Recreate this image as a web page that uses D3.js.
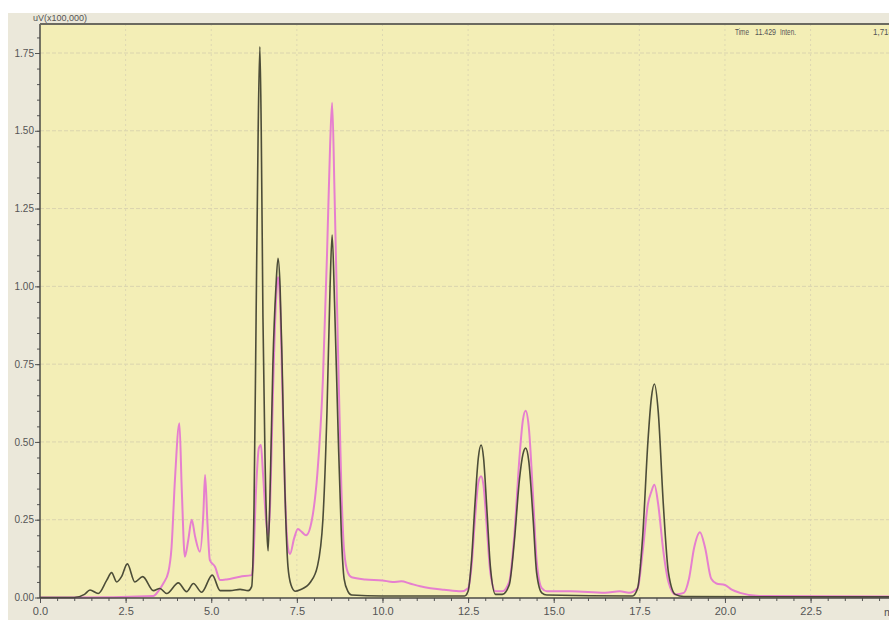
<!DOCTYPE html>
<html>
<head>
<meta charset="utf-8">
<script src="https://cdn.jsdelivr.net/npm/d3@7"></script>
<style>
  body { margin: 0; background: #ffffff; }
  svg { display: block; }
</style>
</head>
<body>
<div id="chart"></div>
<script>
// Chromatogram: two overlaid traces (black = sample A, pink = sample B)

// retention time (min) and intensity (uV x100,000) for the black trace
const blackTime = [0, 1.0, 1.3, 1.46, 1.7, 1.95, 2.09, 2.24, 2.38, 2.55, 2.77, 3.0, 3.31, 3.5, 3.7, 4.04, 4.28, 4.48, 4.72, 5.03, 5.26, 5.55, 5.84, 6.08, 6.18,
  6.25, 6.31, 6.37, 6.42, 6.46, 6.51, 6.57, 6.63, 6.66, 6.72, 6.8, 6.89, 6.95, 7.01, 7.07, 7.15, 7.24, 7.33, 7.45, 7.6, 7.9, 8.1, 8.26, 8.38, 8.47, 8.53, 8.6, 8.7, 8.8, 8.88, 8.99, 9.1,
  10.0, 12.4, 12.5, 12.6, 12.7, 12.8, 12.88, 12.95, 13.05, 13.15, 13.3, 13.5, 13.7, 13.85, 14.0, 14.1, 14.18, 14.27, 14.4, 14.5, 14.65, 14.8,
  17.3, 17.45, 17.6, 17.75, 17.85, 17.94, 18.05, 18.2, 18.35, 18.55, 18.8, 24.8];
const blackValue = [0, 0, 0.01, 0.024, 0.013, 0.056, 0.08, 0.05, 0.067, 0.108, 0.05, 0.067, 0.022, 0.029, 0.013, 0.047, 0.019, 0.045, 0.017, 0.072, 0.022, 0.022, 0.026, 0.022, 0.035,
  0.3, 0.9, 1.5, 1.77, 1.5, 0.9, 0.45, 0.2, 0.15, 0.35, 0.75, 1.0, 1.09, 1.0, 0.75, 0.35, 0.1, 0.04, 0.02, 0.025, 0.05, 0.1, 0.25, 0.6, 1.0, 1.165, 0.95, 0.55, 0.2, 0.06, 0.02, 0.008,
  0.005, 0.005, 0.02, 0.12, 0.3, 0.45, 0.49, 0.45, 0.28, 0.1, 0.01, 0.01, 0.04, 0.18, 0.38, 0.46, 0.48, 0.44, 0.25, 0.08, 0.015, 0.008,
  0.005, 0.03, 0.2, 0.5, 0.64, 0.686, 0.6, 0.3, 0.08, 0.01, 0.003, 0.002];

// same for the pink trace
const pinkTime = [0, 0.97, 3.31, 3.45, 3.6, 3.75, 3.84, 3.94, 4.07, 4.14, 4.23, 4.33, 4.43, 4.53, 4.67, 4.77, 4.82, 4.89, 4.96, 5.11, 5.26, 5.45, 5.84, 6.18,
  6.22, 6.31, 6.39, 6.45, 6.51, 6.6, 6.66, 6.72, 6.8, 6.89, 6.95, 7.01, 7.07, 7.15, 7.24, 7.3, 7.42, 7.53, 7.65, 7.77, 7.94, 8.1, 8.26, 8.38, 8.47, 8.53, 8.6, 8.7, 8.8, 8.88, 8.99, 9.1,
  9.5, 10.0, 10.3, 10.55, 10.8, 11.1, 11.4, 11.8, 12.3, 12.5, 12.6, 12.7, 12.8, 12.88, 12.95, 13.05, 13.15, 13.3, 13.5, 13.7, 13.85, 14.0, 14.1, 14.18, 14.27, 14.4, 14.5, 14.65, 14.8,
  15.5, 16.5, 16.93, 17.2, 17.45, 17.6, 17.75, 17.85, 17.94, 18.05, 18.2, 18.35, 18.55, 18.8, 18.95, 19.1, 19.27, 19.42, 19.6, 19.75, 20.0, 20.2, 20.44, 21.0, 24.8];
const pinkValue = [0, 0, 0.005, 0.02, 0.045, 0.083, 0.16, 0.378, 0.56, 0.345, 0.131, 0.185, 0.25, 0.195, 0.147, 0.27, 0.394, 0.238, 0.12, 0.099, 0.056, 0.058, 0.067, 0.072,
  0.1, 0.35, 0.48, 0.49, 0.4, 0.25, 0.2, 0.3, 0.65, 0.95, 1.03, 0.95, 0.7, 0.35, 0.16, 0.14, 0.19, 0.22, 0.21, 0.2, 0.25, 0.4, 0.7, 1.1, 1.45, 1.59, 1.3, 0.8, 0.35, 0.15, 0.08, 0.065,
  0.058, 0.055, 0.05, 0.052, 0.045, 0.036, 0.03, 0.025, 0.02, 0.03, 0.1, 0.25, 0.37, 0.39, 0.36, 0.22, 0.08, 0.02, 0.02, 0.05, 0.2, 0.45, 0.57, 0.6, 0.55, 0.32, 0.12, 0.03, 0.02,
  0.02, 0.015, 0.02, 0.015, 0.03, 0.15, 0.3, 0.34, 0.362, 0.3, 0.15, 0.05, 0.01, 0.015, 0.06, 0.16, 0.21, 0.16, 0.06, 0.045, 0.04, 0.025, 0.015, 0.005, 0.003];

const xMajorTicks = [0, 2.5, 5, 7.5, 10, 12.5, 15, 17.5, 20, 22.5];
const yMajorTicks = [0, 0.25, 0.5, 0.75, 1.0, 1.25, 1.5, 1.75];

const W = 889, H = 620;
const plot = { left: 40, top: 24, right: 889, bottom: 598 };

const svg = d3.select("#chart").append("svg")
    .attr("width", W)
    .attr("height", H);

// grey window panel + yellow plot area
svg.append("rect")
    .attr("x", 8).attr("y", 13)
    .attr("width", W - 8).attr("height", H - 13)
    .attr("fill", "#ebe8da");
svg.append("rect")
    .attr("x", plot.left).attr("y", plot.top)
    .attr("width", plot.right - plot.left).attr("height", plot.bottom - plot.top)
    .attr("fill", "#f3eeb6");

const x = d3.scaleLinear().domain([0, 24.79]).range([plot.left, plot.right]);
const y = d3.scaleLinear().domain([0, 1.75]).range([597.5, 53]);

// grid
svg.append("g")
    .selectAll("line")
    .data(yMajorTicks.filter(d => d > 0))
    .join("line")
    .attr("x1", plot.left).attr("x2", plot.right)
    .attr("y1", d => y(d)).attr("y2", d => y(d))
    .attr("stroke", "#dad4ae")
    .attr("stroke-dasharray", "4,2");
svg.append("g")
    .selectAll("line")
    .data(xMajorTicks.filter(d => d > 0))
    .join("line")
    .attr("x1", d => x(d)).attr("x2", d => x(d))
    .attr("y1", plot.top).attr("y2", plot.bottom)
    .attr("stroke", "#ddd7b2")
    .attr("stroke-dasharray", "2,3");

// traces
const line = d3.line()
    .x(d => x(d[0]))
    .y(d => y(d[1]))
    .curve(d3.curveMonotoneX);

svg.append("path")
    .datum(d3.zip(pinkTime, pinkValue))
    .attr("d", line)
    .attr("fill", "none")
    .attr("stroke", "#e67fcf")
    .attr("stroke-width", 2);

svg.append("path")
    .datum(d3.zip(blackTime, blackValue))
    .attr("d", line)
    .attr("fill", "none")
    .attr("stroke", "#3a3b2a")
    .attr("stroke-width", 1.6)
    .attr("stroke-opacity", 0.9);

// axes
const fontFam = "'Liberation Sans Narrow', 'Arial Narrow', 'Liberation Sans', sans-serif";

const xMinor = d3.range(0, 24.8, 0.5);
const yMinor = d3.range(0, 1.84, 0.05);

svg.append("g")
    .attr("transform", `translate(0,${plot.bottom})`)
    .call(d3.axisBottom(x).tickValues(xMinor).tickSize(3).tickFormat(""))
    .call(g => g.select(".domain").remove())
    .selectAll("line").attr("stroke", "#555");

svg.append("g")
    .attr("transform", `translate(${plot.left},0)`)
    .call(d3.axisLeft(y).tickValues(yMinor).tickSize(3).tickFormat(""))
    .call(g => g.select(".domain").remove())
    .selectAll("line").attr("stroke", "#555");

const xAxis = svg.append("g")
    .attr("transform", `translate(0,${plot.bottom})`)
    .call(d3.axisBottom(x).tickValues(xMajorTicks).tickSize(5).tickPadding(4).tickFormat(d3.format(".1f")))
    .call(g => g.select(".domain").remove());
xAxis.selectAll("line").attr("stroke", "#555");
xAxis.selectAll("text")
    .attr("font-family", fontFam)
    .attr("font-size", 11)
    .attr("fill", "#555");

const yAxis = svg.append("g")
    .attr("transform", `translate(${plot.left},0)`)
    .call(d3.axisLeft(y).tickValues(yMajorTicks).tickSize(5).tickPadding(1).tickFormat(d3.format(".2f")))
    .call(g => g.select(".domain").remove());
yAxis.selectAll("line").attr("stroke", "#555");
yAxis.selectAll("text")
    .attr("font-family", fontFam)
    .attr("font-size", 10)
    .attr("fill", "#555");

// axis lines and top frame
svg.append("line")
    .attr("x1", plot.left).attr("x2", plot.right)
    .attr("y1", plot.bottom).attr("y2", plot.bottom)
    .attr("stroke", "#4a4a44").attr("stroke-width", 1.5);
svg.append("line")
    .attr("x1", plot.left).attr("x2", plot.left)
    .attr("y1", plot.top).attr("y2", plot.bottom)
    .attr("stroke", "#4a4a44").attr("stroke-width", 1.5);
svg.append("line")
    .attr("x1", plot.left).attr("x2", plot.right)
    .attr("y1", plot.top).attr("y2", plot.top)
    .attr("stroke", "#6b6a60").attr("stroke-width", 2);

// labels
svg.append("text")
    .attr("x", 33).attr("y", 21)
    .attr("font-family", fontFam)
    .attr("font-size", 9)
    .attr("fill", "#555")
    .text("uV(x100,000)");

svg.append("text")
    .attr("x", 884).attr("y", 616)
    .attr("font-family", fontFam)
    .attr("font-size", 11)
    .attr("fill", "#555")
    .text("min");

// readout in the top right corner, condensed like the original
const infoItems = [
    { x: 735, w: 14, t: "Time" },
    { x: 755, w: 21, t: "11.429" },
    { x: 780, w: 16, t: "Inten." },
    { x: 873, w: 20, t: "1,718" }
];
svg.append("g")
    .selectAll("text")
    .data(infoItems)
    .join("text")
    .attr("x", d => d.x)
    .attr("y", 35)
    .attr("textLength", d => d.w)
    .attr("lengthAdjust", "spacingAndGlyphs")
    .attr("font-family", fontFam)
    .attr("font-size", 9)
    .attr("fill", "#555")
    .text(d => d.t);
</script>
</body>
</html>
